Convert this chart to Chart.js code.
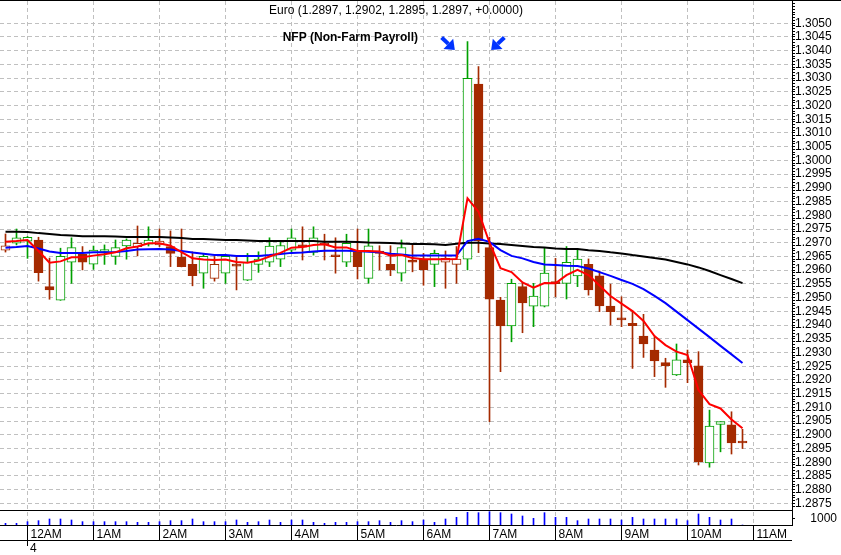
<!DOCTYPE html>
<html>
<head>
<meta charset="utf-8">
<script src="https://cdn.jsdelivr.net/npm/chart.js@4.4.1/dist/chart.umd.min.js"></script>
<style>
  html, body { margin: 0; padding: 0; background: #fff; }
  #wrap { width: 841px; height: 555px; }
</style>
</head>
<body>
<div id="wrap"><canvas id="chart" width="841" height="555"></canvas></div>
<script>
//DATA - 10 minute bars, Euro, from 11:40PM
const symbol = "Euro";
const prevClose = 1.2970;
const opens = [
  1.29673, 1.29698, 1.29706, 1.2971, 1.2954, 1.29491, 1.29629, 1.29658, 1.29622, 1.29668,
  1.2965, 1.29688, 1.29686, 1.29695, 1.29692, 1.29686, 1.29647, 1.29621, 1.29589, 1.2957,
  1.29589, 1.29619, 1.29564, 1.29621, 1.29629, 1.2964, 1.29673, 1.29692, 1.29665, 1.29699,
  1.29652, 1.29629, 1.29665, 1.2957, 1.2967, 1.29621, 1.29589, 1.29637, 1.2964, 1.29621,
  1.29629, 1.29621, 1.2964, 1.30278, 1.29682, 1.29491, 1.29397, 1.2954, 1.29469, 1.29469,
  1.29555, 1.29552, 1.29579, 1.29621, 1.29579, 1.29469, 1.29422, 1.29406, 1.2936, 1.29309,
  1.29263, 1.29218, 1.29273, 1.29251, 1.28898, 1.29038, 1.29036, 1.2897
];
const highs = [
  1.29732, 1.2975, 1.29723, 1.2972, 1.29644, 1.2968, 1.29718, 1.29686, 1.29688, 1.29692,
  1.2971, 1.29714, 1.29761, 1.29758, 1.2975, 1.29743, 1.2975, 1.29667, 1.29659, 1.2965,
  1.29658, 1.29648, 1.29661, 1.29667, 1.29718, 1.29704, 1.2975, 1.29758, 1.29758, 1.29731,
  1.29718, 1.29731, 1.2975, 1.2975, 1.29689, 1.29689, 1.2971, 1.29692, 1.29661, 1.29673,
  1.2967, 1.29686, 1.30433, 1.30342, 1.2972, 1.29501, 1.29567, 1.29553, 1.29552, 1.2968,
  1.29643, 1.29686, 1.29677, 1.29641, 1.29597, 1.29549, 1.29503, 1.29451, 1.29439, 1.29357,
  1.29279, 1.29331, 1.29309, 1.29303, 1.2909, 1.29048, 1.29084, 1.2902
];
const lows = [
  1.29666, 1.29692, 1.29643, 1.2956, 1.29494, 1.2949, 1.29552, 1.29601, 1.29603, 1.29621,
  1.29621, 1.2964, 1.29652, 1.29688, 1.29686, 1.29613, 1.29612, 1.29543, 1.29534, 1.2956,
  1.29552, 1.29528, 1.29562, 1.29592, 1.29613, 1.29613, 1.29666, 1.29637, 1.29655, 1.29637,
  1.29589, 1.29613, 1.29568, 1.29552, 1.29601, 1.2958, 1.2956, 1.29594, 1.29545, 1.2954,
  1.29534, 1.29552, 1.29601, 1.29664, 1.29048, 1.2923, 1.29339, 1.29372, 1.29394, 1.29466,
  1.29503, 1.29495, 1.2954, 1.29509, 1.29449, 1.294, 1.29394, 1.29242, 1.29282, 1.29212,
  1.29173, 1.29216, 1.2919, 1.2889, 1.28882, 1.28938, 1.2893, 1.2895
];
const closes = [
  1.29689, 1.29718, 1.2972, 1.29591, 1.29528, 1.2965, 1.29682, 1.29629, 1.29673, 1.29674,
  1.29682, 1.2971, 1.29698, 1.2971, 1.29706, 1.29661, 1.29613, 1.2958, 1.2965, 1.29621,
  1.2965, 1.29615, 1.29629, 1.2964, 1.29688, 1.2969, 1.29718, 1.29684, 1.29718, 1.29692,
  1.29649, 1.29698, 1.29613, 1.29689, 1.29661, 1.29601, 1.29682, 1.29629, 1.29601, 1.29661,
  1.29643, 1.2964, 1.30299, 1.29707, 1.29494, 1.29397, 1.29552, 1.29481, 1.29506, 1.29589,
  1.29551, 1.29629, 1.2964, 1.29528, 1.2947, 1.29449, 1.29419, 1.29398, 1.29331, 1.29269,
  1.29252, 1.29273, 1.29263, 1.28902, 1.29032, 1.29048, 1.2897, 1.2897
];
const volumes = [
  250, 250, 500, 650, 900, 900, 750, 500, 500, 500,
  500, 500, 400, 400, 500, 650, 650, 900, 500, 500,
  500, 750, 400, 500, 750, 400, 750, 750, 400, 250,
  400, 400, 500, 500, 650, 400, 650, 500, 750, 400,
  900, 1150, 1900, 1850, 2000, 1850, 1650, 1350, 1000, 1850,
  1150, 1150, 650, 900, 900, 900, 750, 1150, 900, 900,
  900, 900, 650, 1650, 1150, 750, 900, 0
];
//moving averages
const maFast = [
  1.29704, 1.29706, 1.2971, 1.2967, 1.29627, 1.29632, 1.29647, 1.29647, 1.29653, 1.29658,
  1.29665, 1.2968, 1.29686, 1.29698, 1.29698, 1.29689, 1.29666, 1.29643, 1.29639, 1.29637,
  1.29639, 1.2963, 1.29627, 1.29635, 1.2965, 1.29663, 1.29682, 1.29684, 1.29692, 1.29694,
  1.29683, 1.29683, 1.2967, 1.2967, 1.29668, 1.29653, 1.29655, 1.29644, 1.2964, 1.2964,
  1.2964, 1.29641, 1.29862, 1.29813, 1.297, 1.29607, 1.29593, 1.29555, 1.29536, 1.29553,
  1.29552, 1.29582, 1.29601, 1.29582, 1.29544, 1.29506, 1.29478, 1.29451, 1.29415, 1.2936,
  1.29327, 1.29303, 1.29291, 1.29163, 1.29112, 1.29096, 1.29056, 1.29024
];
const maMid = [
  1.29682, 1.29684, 1.29688, 1.29679, 1.29668, 1.29663, 1.29663, 1.29663, 1.29665, 1.29665,
  1.29666, 1.2967, 1.29675, 1.29676, 1.29677, 1.29675, 1.2967, 1.29664, 1.2966, 1.29655,
  1.29655, 1.29652, 1.29652, 1.29652, 1.29655, 1.29659, 1.29663, 1.29664, 1.29668, 1.29671,
  1.29671, 1.29671, 1.2967, 1.29667, 1.29665, 1.2966, 1.29657, 1.29653, 1.29653, 1.29653,
  1.29653, 1.29653, 1.29706, 1.29714, 1.29703, 1.29673, 1.29652, 1.29643, 1.2963, 1.29621,
  1.29619, 1.29616, 1.29615, 1.29606, 1.29593, 1.29579, 1.29564, 1.2955, 1.29531, 1.29506,
  1.2948, 1.29449, 1.29418, 1.29387, 1.29356, 1.29324, 1.29293, 1.29262
];
const maSlow = [
  1.2974, 1.2974, 1.29739, 1.29735, 1.29732, 1.29728, 1.29726, 1.29724, 1.29724, 1.29724,
  1.29723, 1.29721, 1.29721, 1.29721, 1.29721, 1.29719, 1.29717, 1.29714, 1.29714, 1.29712,
  1.2971, 1.2971, 1.29708, 1.29706, 1.29706, 1.29706, 1.29706, 1.29706, 1.29706, 1.29704,
  1.29704, 1.29704, 1.29703, 1.29701, 1.297, 1.29699, 1.29697, 1.29695, 1.29695, 1.29694,
  1.29692, 1.29696, 1.297, 1.297, 1.29697, 1.29695, 1.29692, 1.29688, 1.29684, 1.29683,
  1.29679, 1.29677, 1.29677, 1.29673, 1.2967, 1.29665, 1.29661, 1.29655, 1.2965, 1.29644,
  1.29639, 1.2963, 1.29621, 1.2961, 1.29597, 1.29582, 1.29568, 1.29553
];
const hourLabels = ["12AM", "1AM", "2AM", "3AM", "4AM", "5AM", "6AM", "7AM", "8AM", "9AM", "10AM", "11AM"];
const hourBars = [2, 8, 14, 20, 26, 32, 38, 44, 50, 56, 62, 68];
const dayLabel = "4";
const note = "NFP (Non-Farm Payroll)";

//STYLE
const GREEN = "#00a000";
const BROWN = "#a52a00";
const FONT = '"Liberation Sans", Arial, sans-serif';
Chart.defaults.font.family = FONT;
Chart.defaults.font.size = 12;
Chart.defaults.color = "#000";

let candleColor = closes.map((c, i) => (c > (i ? closes[i - 1] : prevClose) ? GREEN : BROWN));
let bodyFill = closes.map((c, i) => (c > opens[i] ? "#ffffff" : candleColor[i]));

function onStep(v) {
  return Math.abs(v * 1e4 - Math.round(v * 1e4)) < 1e-4;
}
function isMajor(v) {
  return onStep(v) && Math.round(v * 1e4) % 5 == 0 && v > 1.28745 && v < 1.30505;
}

function drawArrow(ctx, x1, y1, x2, y2) {
  let a = Math.atan2(y2 - y1, x2 - x1);
  let len = 9, w = 7;
  let bx = x2 - len * Math.cos(a), by = y2 - len * Math.sin(a);
  ctx.lineWidth = 4;
  ctx.beginPath();
  ctx.moveTo(x1, y1);
  ctx.lineTo(bx, by);
  ctx.stroke();
  ctx.beginPath();
  ctx.moveTo(x2, y2);
  ctx.lineTo(bx + w * Math.sin(a), by - w * Math.cos(a));
  ctx.lineTo(bx - w * Math.sin(a), by + w * Math.cos(a));
  ctx.closePath();
  ctx.fill();
}

//frame lines, title and the NFP note
const overlay = {
  id: "overlay",
  afterDraw(chart) {
    const { ctx, chartArea, scales } = chart;
    let xs = scales.x, ys = scales.y, yv = scales.yv;
    ctx.save();
    ctx.fillStyle = "#000";
    ctx.fillRect(0, 0, chart.width, 1);
    ctx.fillRect(chartArea.left, Math.round(yv.top), chartArea.width, 1);
    let rowBottom = Math.round(xs.top) + 15;
    ctx.fillRect(chartArea.left, rowBottom, chartArea.width, 1);
    let dx = Math.floor(xs.getPixelForValue(hourBars[0]));
    ctx.fillRect(dx, rowBottom, 1, 6);
    ctx.font = "12px " + FONT;
    ctx.textBaseline = "middle";
    ctx.textAlign = "left";
    ctx.fillText(dayLabel, dx + 3, rowBottom + 9);

    let n = closes.length - 1;
    let chg = closes[n] - closes[n - 1];
    let title = `${symbol} (${opens[n].toFixed(4)}, ${highs[n].toFixed(4)}, ${lows[n].toFixed(4)}, ${closes[n].toFixed(4)}, ${chg >= 0 ? "+" : ""}${chg.toFixed(4)})`;
    ctx.textAlign = "center";
    ctx.fillText(title, (chartArea.left + chartArea.right) / 2, 11);

    ctx.font = "bold 12px " + FONT;
    ctx.textAlign = "right";
    ctx.fillText(note, xs.getPixelForValue(37.5), ys.getPixelForValue(1.30446));

    ctx.fillStyle = "#0033ff";
    ctx.strokeStyle = "#0033ff";
    drawArrow(ctx, xs.getPixelForValue(39.65), ys.getPixelForValue(1.30448), xs.getPixelForValue(40.85), ys.getPixelForValue(1.30402));
    drawArrow(ctx, xs.getPixelForValue(45.35), ys.getPixelForValue(1.30448), xs.getPixelForValue(44.15), ys.getPixelForValue(1.30402));
    ctx.restore();
  },
};

function pts(arr) {
  return arr.map((v, i) => ({ x: i, y: v }));
}
function lineSet(label, arr, color, order) {
  return {
    type: "line",
    label: label,
    data: pts(arr),
    borderColor: color,
    borderWidth: 2,
    pointRadius: 0,
    tension: 0,
    order: order,
    yAxisID: "y",
  };
}

new Chart(document.getElementById("chart"), {
  type: "bar",
  data: {
    datasets: [
      lineSet("fast", maFast, "#ff0000", 0),
      lineSet("mid", maMid, "#0000ff", 1),
      lineSet("slow", maSlow, "#000000", 2),
      {
        label: "body",
        data: opens.map((o, i) => ({ x: i, y: [o, closes[i]] })),
        backgroundColor: bodyFill,
        borderColor: candleColor,
        borderWidth: 1,
        borderSkipped: false,
        barThickness: 9,
        minBarLength: 2,
        grouped: false,
        order: 3,
        yAxisID: "y",
      },
      {
        label: "wick",
        data: lows.map((l, i) => ({ x: i, y: [l, highs[i]] })),
        backgroundColor: candleColor,
        barThickness: 1,
        grouped: false,
        order: 4,
        yAxisID: "y",
      },
      {
        label: "volume",
        data: pts(volumes),
        backgroundColor: "#0000ff",
        barThickness: 1,
        grouped: false,
        order: 5,
        yAxisID: "yv",
      },
    ],
  },
  options: {
    responsive: false,
    animation: false,
    devicePixelRatio: 1,
    events: [],
    layout: { padding: { top: 1, right: 4, left: 0, bottom: 0 }, autoPadding: false },
    plugins: { legend: { display: false }, tooltip: { enabled: false } },
    scales: {
      x: {
        type: "linear",
        position: "bottom",
        offset: false,
        min: -0.5,
        max: 71.5,
        afterBuildTicks: (s) => {
          s.ticks = hourBars.map((v) => ({ value: v }));
        },
        afterFit: (s) => {
          s.height = 30;
          s.paddingLeft = 0;
          s.paddingRight = 0;
        },
        ticks: {
          autoSkip: false,
          maxRotation: 0,
          minRotation: 0,
          align: "start",
          labelOffset: 3,
          padding: -13,
          callback: (v) => hourLabels[hourBars.indexOf(v)],
        },
        grid: { offset: false, color: "#c0c0c0", tickColor: "#000", tickLength: 15 },
        border: { color: "#000", dash: [4, 3] },
      },
      y: {
        type: "linear",
        position: "right",
        stack: "pane",
        stackWeight: 509,
        min: 1.28726,
        max: 1.305809,
        afterFit: (s) => {
          s.width = 45;
          s.paddingTop = 0;
          s.paddingBottom = 0;
        },
        ticks: {
          stepSize: 0.0001,
          autoSkip: false,
          padding: 0,
          callback: (v) => (isMajor(v) ? v.toFixed(4) : ""),
        },
        grid: {
          color: (c) => (isMajor(c.tick.value) ? "#c0c0c0" : "rgba(0,0,0,0)"),
          tickColor: (c) => (onStep(c.tick.value) ? "#000" : "rgba(0,0,0,0)"),
          tickLength: 3,
        },
        border: { color: "#000", dash: [4, 3] },
      },
      yv: {
        type: "linear",
        position: "right",
        stack: "pane",
        stackWeight: 15,
        min: 0,
        max: 2250,
        afterBuildTicks: (s) => {
          s.ticks = [{ value: 1000 }];
        },
        afterFit: (s) => {
          s.width = 45;
          s.paddingTop = 0;
          s.paddingBottom = 0;
        },
        ticks: { autoSkip: false, crossAlign: "far", padding: 0, callback: (v) => String(v) },
        grid: { drawOnChartArea: false, tickColor: "#000", tickLength: 3 },
        border: { color: "#000" },
      },
    },
  },
  plugins: [overlay],
});
</script>
</body>
</html>
